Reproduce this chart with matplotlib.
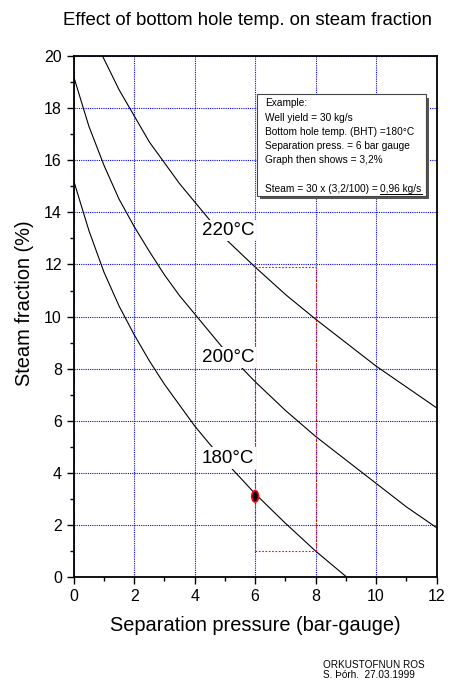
import matplotlib
matplotlib.use("Agg")
import matplotlib.pyplot as plt
from matplotlib.patches import Rectangle, Ellipse
from matplotlib.lines import Line2D

plt.rcParams['font.family'] = ['Liberation Sans', 'DejaVu Sans']

# curves (separation pressure bar-gauge -> steam fraction %)
p_180 = [0, 0.5, 1, 1.5, 2, 2.5, 3, 3.5, 4, 4.5, 5, 6, 7, 8, 9.03]
s_180 = [15.2, 13.3, 11.7, 10.4, 9.3, 8.3, 7.4, 6.6, 5.8, 5.1, 4.45, 3.2, 2.07, 1.0, 0]

p_200 = [0, 0.5, 1, 1.5, 2, 2.5, 3, 3.5, 4, 5, 6, 7, 8, 9, 10, 11, 12]
s_200 = [19.2, 17.3, 15.8, 14.5, 13.45, 12.5, 11.6, 10.8, 10.1, 8.7, 7.5, 6.4, 5.4, 4.5, 3.6, 2.7, 1.9]

p_220 = [0.95, 1.5, 2, 2.5, 3, 3.5, 4, 5, 6, 7, 8, 9, 10, 11, 12]
s_220 = [20, 18.7, 17.7, 16.7, 15.9, 15.1, 14.4, 13.0, 11.9, 10.85, 9.9, 9.0, 8.1, 7.3, 6.5]

labels = ['180°C', '200°C', '220°C']
label_pos = [(5.1, 4.57), (5.1, 8.42), (5.1, 13.3)]

# example point and read-off rectangle
ex_p, ex_s = 6, 3.1
rect_p = [6, 8]
rect_s = [1.0, 11.9]

box_lines = ["Example:",
             "Well yield = 30 kg/s",
             "Bottom hole temp. (BHT) =180°C",
             "Separation press. = 6 bar gauge",
             "Graph then shows = 3,2%"]
steam_txt = "Steam = 30 x (3,2/100) = "
steam_res = "0,96 kg/s"

fig = plt.figure(figsize=(4.5, 6.83), dpi=100)
ax = fig.add_axes([0.164, 0.155, 0.806, 0.763])

ax.set_xlim(0, 12)
ax.set_ylim(0, 20)
ax.set_xticks(range(0, 13, 2))
ax.set_xticks(range(0, 13), minor=True)
ax.set_yticks(range(0, 21, 2))
ax.set_yticks(range(0, 21), minor=True)
ax.tick_params(which='major', direction='out', length=5, width=1, labelsize=11.5)
ax.tick_params(which='minor', direction='out', length=3, width=1)
for sp in ax.spines.values():
    sp.set_linewidth(1.3)
ax.grid(True, which='major', color='blue', linestyle=(0, (1, 1)), linewidth=0.8)
ax.set_axisbelow(True)

for p, s in [(p_180, s_180), (p_200, s_200), (p_220, s_220)]:
    ax.plot(p, s, color='black', lw=0.8, zorder=3)

for lab, (x, y) in zip(labels, label_pos):
    ax.text(x, y, lab, fontsize=13.5, ha='center', va='center', zorder=5,
            bbox=dict(facecolor='white', edgecolor='none', pad=1.5))

# red dotted rectangle
ax.plot([rect_p[0], rect_p[0]], rect_s, color='red', ls=(0, (1.5, 1.5)), lw=0.8, zorder=4)
ax.plot([rect_p[1], rect_p[1]], rect_s, color='red', ls=(0, (1.5, 1.5)), lw=0.8, zorder=4)
ax.plot(rect_p, [rect_s[0], rect_s[0]], color='red', ls=(0, (1.5, 1.5)), lw=0.8, zorder=4)
ax.plot(rect_p, [rect_s[1], rect_s[1]], color='red', ls=(0, (1.5, 1.5)), lw=0.8, zorder=4)

ax.add_patch(Ellipse((ex_p, ex_s), 0.22, 0.44, facecolor='black', edgecolor='red', lw=1.2, zorder=6))

# example box with shadow
ax.add_patch(Rectangle((6.15, 14.5), 5.6, 3.9, facecolor='#555555', edgecolor='none', zorder=6))
ax.add_patch(Rectangle((6.05, 14.63), 5.6, 3.91, facecolor='white', edgecolor='#444444', lw=0.8, zorder=7))
ys = [18.18, 17.62, 17.08, 16.54, 16.0]
for t, y in zip(box_lines, ys):
    ax.text(6.32, y, t, fontsize=7.3, va='center', zorder=8)
t1 = ax.text(6.32, 14.89, steam_txt, fontsize=7.3, va='center', zorder=8)
t2 = ax.annotate(steam_res, xy=(1, 0.5), xycoords=t1, va='center', ha='left', fontsize=7.3, zorder=8)

ax.set_xlabel("Separation pressure (bar-gauge)", fontsize=14.4)
ax.xaxis.set_label_coords(0.5, -0.075)
ax.set_ylabel("Steam fraction (%)", fontsize=14.4, va='center')
ax.yaxis.set_label_coords(-0.135, 0.525)
fig.text(0.551, 0.970, "Effect of bottom hole temp. on steam fraction", fontsize=13.4, ha='center', va='center')

fig.text(0.717, 0.0264, "ORKUSTOFNUN ROS", fontsize=7.2, ha='left', va='center')
fig.text(0.717, 0.0117, "S. Þórh.  27.03.1999", fontsize=7.2, ha='left', va='center')

fig.canvas.draw()
bb = t2.get_window_extent()
fig.add_artist(Line2D([bb.x0 / fig.bbox.width, bb.x1 / fig.bbox.width],
                      [(bb.y0 + 0.5) / fig.bbox.height] * 2,
                      color='black', lw=0.7, transform=fig.transFigure))

fig.savefig("out.png", dpi=100)
